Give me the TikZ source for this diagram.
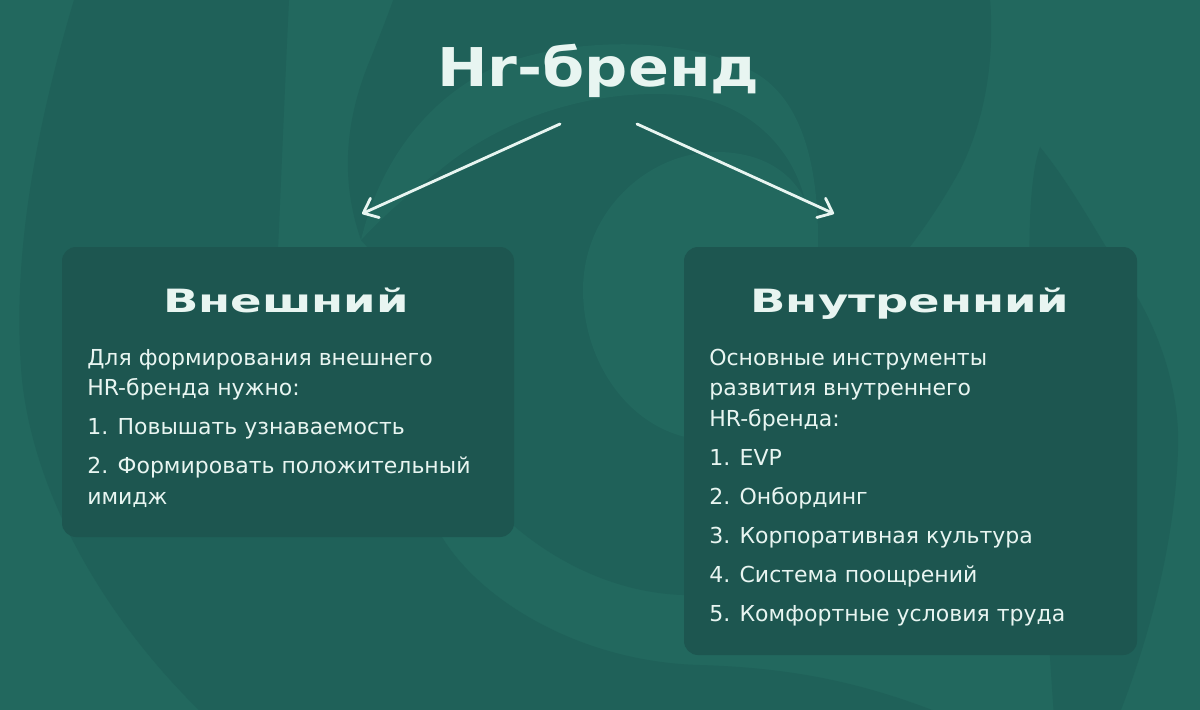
\documentclass[tikz,border=0pt]{standalone}
\usepackage{fontspec}
\usetikzlibrary{arrows.meta,calc,positioning}

\setmainfont{DejaVu Sans}
\newfontfamily\titleface{DejaVu Sans Bold}[FakeStretch=1.13]
\newfontfamily\headface{DejaVu Sans Bold}[FakeStretch=1.45]

\definecolor{bglight}{HTML}{22685E}
\definecolor{bgdark}{HTML}{1F6159}
\definecolor{cardfill}{HTML}{1D5650}
\definecolor{ink}{HTML}{E8F5F1}

\newlength\pxu
\setlength\pxu{0.025cm}

\newcommand\titlefont{\titleface\fontsize{38}{44}\selectfont}
\newcommand\headfont{\headface\fontsize{22.8}{27}\selectfont}
\newcommand\bodyfont{\fontsize{15.65}{21.7}\selectfont}

\begin{document}
\begin{tikzpicture}[
    x=0.025cm,
    y=-0.025cm,
    line cap=round,
    line join=round,
    card/.style={
        fill=cardfill,
        rounded corners=10pt,
        inner sep=0pt
    },
    cardhead/.style={
        text=ink,
        font=\headfont,
        anchor=base,
        inner sep=0pt
    },
    cardtext/.style={
        text=ink,
        font=\bodyfont,
        align=left,
        anchor=north west,
        inner sep=0pt
    },
    link/.style={
        draw=ink,
        line width=2pt,
        -{Straight Barb[round,length=9pt,width=15pt]}
    }
]

% -------------------------------------------------
% Фон и завиток
% -------------------------------------------------

\useasboundingbox (0,0) rectangle (1200,709);
\fill[bglight] (-20,-20) rectangle (1220,729);

\begin{scope}
\clip (-10,-10) rectangle (1210,719);

% внешний рукав слева
\fill[bgdark] (80,-20) .. controls (40,110) and (10,250) .. (22,380)
    .. controls (35,500) and (110,630) .. (220,730) -- (980,730)
    .. controls (880,685) and (800,668) .. (700,665)
    .. controls (580,662) and (480,600) .. (442,537)
    .. controls (330,420) and (272,330) .. (278,250)
    .. controls (282,160) and (286,60) .. (290,-20) -- cycle;

% большой рукав вокруг центра
\fill[bgdark] (361,240) .. controls (340,180) and (345,120) .. (370,60)
    .. controls (382,30) and (392,5) .. (400,-20) -- (988,-20)
    .. controls (996,40) and (990,110) .. (960,170)
    .. controls (935,215) and (915,240) .. (900,260)
    .. controls (850,420) and (780,590) .. (700,595)
    .. controls (620,598) and (550,560) .. (504,517)
    .. controls (440,460) and (400,380) .. (390,300)
    .. controls (385,270) and (375,255) .. (361,240) -- cycle;

% светлая полоса и центр
\fill[bglight] (361,240) .. controls (380,160) and (430,95) .. (500,65)
    .. controls (570,38) and (680,35) .. (750,70)
    .. controls (800,95) and (818,160) .. (818,240)
    .. controls (818,340) and (790,430) .. (720,440)
    .. controls (640,445) and (583,370) .. (583,290)
    .. controls (583,210) and (650,150) .. (720,152)
    .. controls (760,153) and (790,170) .. (805,200)
    .. controls (790,140) and (740,100) .. (680,95)
    .. controls (590,88) and (500,120) .. (440,170)
    .. controls (400,200) and (375,225) .. (361,240) -- cycle;

% рог справа
\fill[bgdark] (1040,147) .. controls (1075,190) and (1100,240) .. (1130,285)
    .. controls (1165,340) and (1180,400) .. (1178,450)
    .. controls (1175,540) and (1150,640) .. (1113,730) -- (1055,730)
    .. controls (1045,600) and (1040,450) .. (1033,350)
    .. controls (1027,260) and (1028,180) .. (1040,147) -- cycle;
\end{scope}

% -------------------------------------------------
% Заголовок
% -------------------------------------------------

\node[text=ink, font=\titlefont, anchor=base, inner sep=0pt]
    (title) at (598.5,87) {Hr-бренд};

% -------------------------------------------------
% Карточки
% -------------------------------------------------

\node[card, minimum width=452\pxu, minimum height=290\pxu] (ext) at (288,392) {};
\node[card, minimum width=453\pxu, minimum height=408\pxu] (int) at (910.5,451) {};

\node[cardhead] (ext-head) at (286,312) {Внешний};
\node[cardhead] (int-head) at (910,312) {Внутренний};

\node[cardtext] (ext-text) at (87,343.6) {\strut Для формирования внешнего\\
    HR-бренда нужно:\\[6pt]
    1. Повышать узнаваемость\\[6pt]
    2. Формировать положительный\\
    имидж};

\node[cardtext] (int-text) at (709,343.6) {\strut Основные инструменты\\
    развития внутреннего\\
    HR-бренда:\\[6pt]
    1. EVP\\[6pt]
    2. Онбординг\\[6pt]
    3. Корпоративная культура\\[6pt]
    4. Система поощрений\\[6pt]
    5. Комфортные условия труда};

% -------------------------------------------------
% Стрелки
% -------------------------------------------------

\draw[link] ($(title.base)+(-38.5,37)$) -- ($(ext.north)+(74,-33)$);
\draw[link] ($(title.base)+(38.5,37)$) -- ($(int.north)+(-76.5,-33)$);

\end{tikzpicture}
\end{document}
